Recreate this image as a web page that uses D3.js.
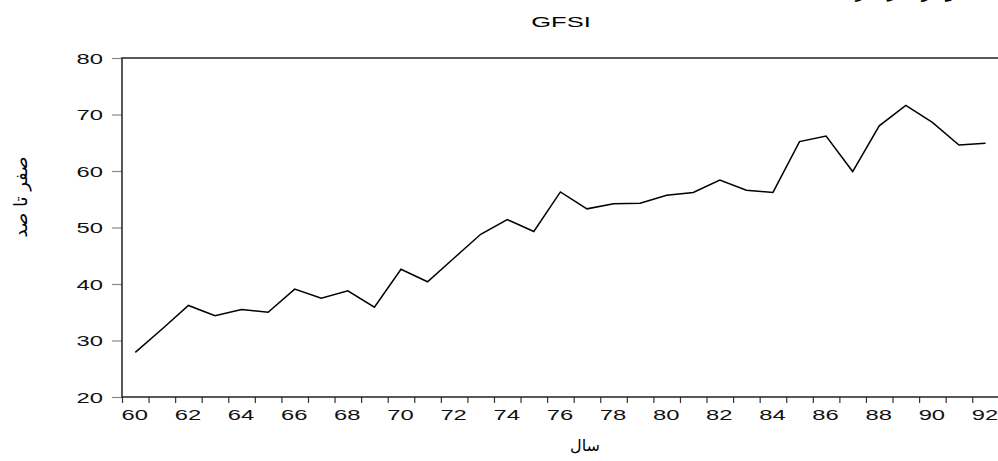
<!DOCTYPE html>
<html>
<head>
<meta charset="utf-8">
<script src="https://cdn.jsdelivr.net/npm/d3@7"></script>
<style>
  html, body { margin: 0; padding: 0; background: #fff; }
  svg { display: block; }
</style>
</head>
<body>
<svg id="chart" width="998" height="461"></svg>
<script>
// GFSI yearly values (years written as two digits, 1960-1992)
const years = [60, 61, 62, 63, 64, 65, 66, 67, 68, 69, 70, 71, 72, 73, 74, 75, 76,
  77, 78, 79, 80, 81, 82, 83, 84, 85, 86, 87, 88, 89, 90, 91, 92]
const gfsi = [27.9, 32.0, 36.2, 34.4, 35.5, 35.0, 39.1, 37.5, 38.8, 35.9, 42.6,
  40.4, 44.6, 48.8, 51.4, 49.3, 56.3, 53.3, 54.2, 54.3, 55.7, 56.2, 58.4, 56.6,
  56.2, 65.2, 66.2, 59.9, 68.0, 71.6, 68.6, 64.6, 64.9]
const yTicks = [20, 30, 40, 50, 60, 70, 80]
const xLabelYears = [60, 62, 64, 66, 68, 70, 72, 74, 76, 78, 80, 82, 84, 86, 88, 90, 92]

const LEFT = 122
const RIGHT = 998.8
const TOP = 58
const BOTTOM = 397
const STRETCH = 1.7 // the original picture was widened, text too
const LATIN = '"Liberation Sans", Arial, sans-serif'
const PERSIAN = '"DejaVu Sans", sans-serif'

const svg = d3.select('#chart')

// one band per year, points sit in the middle of their year
const x = d3.scaleLinear()
  .domain([years[0], years[years.length - 1] + 1])
  .range([LEFT, RIGHT])
const y = d3.scaleLinear()
  .domain([20, 80])
  .range([BOTTOM, TOP])

// y ticks + labels
const yAxis = svg.append('g')
  .attr('transform', 'translate(' + LEFT + ',0)')
  .call(d3.axisLeft(y).tickValues(yTicks).tickSize(10).tickFormat(d3.format('d')))
yAxis.select('.domain').remove()
yAxis.selectAll('.tick line').attr('stroke', '#888').attr('stroke-width', 1.2)
yAxis.selectAll('.tick text')
  .attr('x', 0)
  .attr('dy', '0.36em')
  .attr('transform', 'translate(-19,0) scale(' + STRETCH + ',1)')
  .attr('text-anchor', 'end')
  .style('font-family', LATIN)
  .style('font-size', '14px')
  .attr('fill', '#111')

// x ticks at every year boundary
const xTickAxis = svg.append('g')
  .attr('transform', 'translate(0,' + BOTTOM + ')')
  .call(d3.axisBottom(x)
    .tickValues(years.concat([years[years.length - 1] + 1]))
    .tickSize(6)
    .tickFormat(''))
xTickAxis.select('.domain').remove()
xTickAxis.selectAll('.tick line').attr('stroke', '#333').attr('stroke-width', 1.2)

// x labels, centred on their year
const xLabels = svg.append('g')
  .attr('transform', 'translate(0,' + BOTTOM + ')')
  .call(d3.axisBottom(x)
    .tickValues(xLabelYears.map(d => d + 0.5))
    .tickSize(0)
    .tickFormat(d => d3.format('d')(d - 0.5)))
xLabels.select('.domain').remove()
xLabels.selectAll('.tick text')
  .attr('y', 0)
  .attr('dy', 0)
  .attr('transform', 'translate(-1,23) scale(' + STRETCH + ',1)')
  .style('font-family', LATIN)
  .style('font-size', '14px')
  .attr('fill', '#111')

// frame
svg.append('rect')
  .attr('x', LEFT)
  .attr('y', TOP)
  .attr('width', RIGHT - LEFT)
  .attr('height', BOTTOM - TOP)
  .attr('fill', 'none')
  .attr('stroke', '#222')
  .attr('stroke-width', 1.5)

// the series
const line = d3.line()
  .x((d, i) => x(years[i] + 0.5))
  .y(d => y(d))
svg.append('path')
  .datum(gfsi)
  .attr('d', line)
  .attr('fill', 'none')
  .attr('stroke', '#000')
  .attr('stroke-width', 1.5)
  .attr('stroke-linejoin', 'miter')

// title
svg.append('text')
  .attr('transform', 'translate(561,27) scale(' + STRETCH + ',1)')
  .attr('text-anchor', 'middle')
  .style('font-family', LATIN)
  .style('font-size', '15px')
  .text('GFSI')

// axis titles (Persian)
svg.append('text')
  .attr('transform', 'translate(27,197) rotate(-90)')
  .attr('text-anchor', 'middle')
  .style('font-family', PERSIAN)
  .style('font-size', '18px')
  .text('صفر تا صد')

svg.append('text')
  .attr('x', 585)
  .attr('y', 451)
  .attr('text-anchor', 'middle')
  .style('font-family', PERSIAN)
  .style('font-size', '16px')
  .text('سال')

// heading cut off at the top edge of the picture
svg.append('text')
  .attr('x', 895)
  .attr('y', -3)
  .attr('text-anchor', 'middle')
  .style('font-family', PERSIAN)
  .style('font-size', '20px')
  .text('نمودار سری زمانی')
</script>
</body>
</html>
